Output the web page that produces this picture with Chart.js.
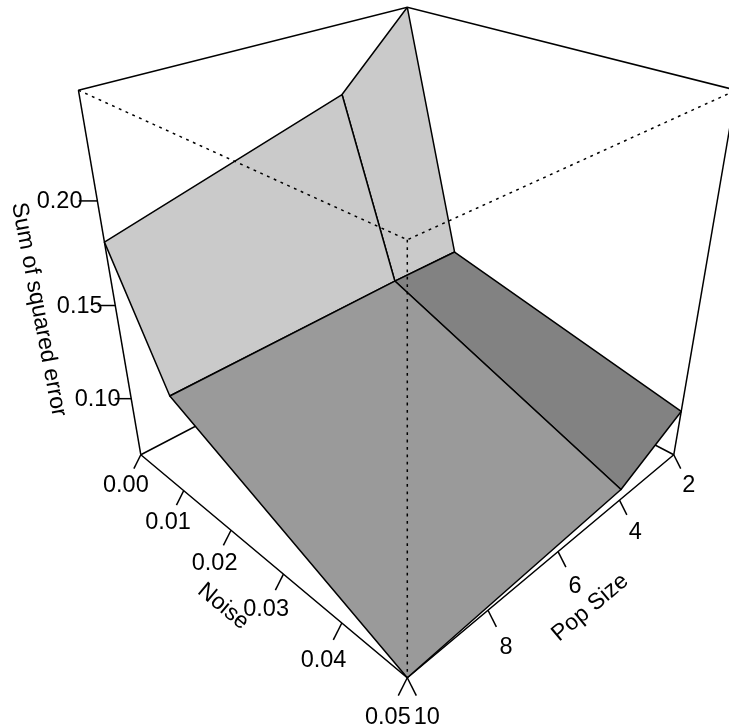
<!DOCTYPE html>
<html>
<head>
<meta charset="utf-8">
<style>html,body{margin:0;padding:0;background:#fff;overflow:hidden}canvas{display:block}</style>
<script src="https://cdn.jsdelivr.net/npm/chart.js@4/dist/chart.umd.min.js"></script>
</head>
<body>
<canvas id="c" width="729" height="728" style="width:729px;height:728px"></canvas>
<script>
// ---- data ----
const noiseGrid = [0, 0.01, 0.05];
const popGrid = [2, 4, 10];
const errNoise0 = [0.247, 0.2128, 0.181];
const errNoise1 = [0.1228, 0.1228, 0.120];
const errNoise5 = [0.0927, 0.0733, 0.067];
const errorRows = [errNoise0, errNoise1, errNoise5];
const cellShades = [['#cacaca', '#cacaca'], ['#828282', '#9a9a9a']];
const noiseTicks = ['0.00', '0.01', '0.02', '0.03', '0.04', '0.05'];
const popTicks = ['2', '4', '6', '8', '10'];
const errorTicks = ['0.10', '0.15', '0.20'];
const noiseTitle = 'Noise', popTitle = 'Pop Size', errorTitle = 'Sum of squared error';
const noiseLim = [0, 0.05], popLim = [2, 10], errorLim = [0.067, 0.247];

// ---- view (like persp: theta, phi, distance) ----
const theta = 45 * Math.PI / 180, phi = 30 * Math.PI / 180, dist = 4.77;
const scaleK = 993, originX = 407.3, originY = 291.6, W = 729, H = 728;
const unit = (v, lim) => 2 * (v - lim[0]) / (lim[1] - lim[0]) - 1;
function project(n, p, z) {
  const h = n * Math.cos(theta) - p * Math.sin(theta);
  const g = n * Math.sin(theta) + p * Math.cos(theta);
  const yy = z * Math.cos(phi) - g * Math.sin(phi);
  const w = dist - (z * Math.sin(phi) + g * Math.cos(phi));
  return { x: h / w, y: yy / w };
}
const INK = '#000', LW = 1.5, DOT = [2.8, 4.6];
const datasets = [];
const addLine = (pts, dash) => datasets.push({ data: pts, showLine: true, fill: false, pointRadius: 0, borderColor: INK, borderWidth: LW, borderDash: dash || [], tension: 0, borderCapStyle: 'butt' });
const corner = (n, p, z) => project(n, p, z);

// box: back edges
addLine([corner(-1, 1, 1), corner(-1, -1, 1), corner(1, -1, 1)]);
addLine([corner(-1, 1, 1), corner(-1, 1, -1)]);
addLine([corner(1, -1, 1), corner(1, -1, -1)]);
addLine([corner(-1, -1, 1), corner(-1, -1, -1)]);
addLine([corner(-1, 1, -1), corner(-1, -1, -1), corner(1, -1, -1)]);
addLine([corner(-1, 1, -1), corner(1, 1, -1), corner(1, -1, -1)]);

// ticks
const tickP = 0.052, tickZ = -0.063, tickZAxis = 0.06, labelMul = 2.15, titleMul = 3.7;
const labels = [];
noiseTicks.forEach(t => {
  const n = unit(+t, noiseLim);
  addLine([corner(n, 1, -1), corner(n, 1 + tickP, -1 + tickZ)]);
  labels.push({ text: t, at: corner(n, 1 + tickP * labelMul, -1 + tickZ * labelMul), rot: 0, size: 23.5 });
});
popTicks.forEach(t => {
  const p = unit(+t, popLim);
  addLine([corner(1, p, -1), corner(1 + tickP, p, -1 + tickZ)]);
  labels.push({ text: t, at: corner(1 + tickP * labelMul, p, -1 + tickZ * labelMul), rot: 0, size: 23.5 });
});
errorTicks.forEach(t => {
  const z = unit(+t, errorLim);
  addLine([corner(-1, 1, z), corner(-1 - tickZAxis, 1 + tickZAxis, z)]);
  labels.push({ text: t, at: corner(-1 - tickZAxis * 2.03, 1 + tickZAxis * 2.03, z), rot: 0, size: 23.5 });
});

// surface
for (let i = 0; i < noiseGrid.length - 1; i++) {
  for (let j = 0; j < popGrid.length - 1; j++) {
    const v = (a, b) => project(unit(noiseGrid[a], noiseLim), unit(popGrid[b], popLim), unit(errorRows[a][b], errorLim));
    const poly = [v(i, j), v(i, j + 1), v(i + 1, j + 1), v(i + 1, j), v(i, j)];
    datasets.push({ data: poly, showLine: true, fill: 'shape', backgroundColor: cellShades[i][j], pointRadius: 0, borderColor: INK, borderWidth: LW, tension: 0, borderJoinStyle: 'round' });
  }
}

// box: front edges, dotted over the surface
addLine([corner(-1, 1, 1), corner(1, 1, 1), corner(1, -1, 1)], DOT);
addLine([corner(1, 1, 1), corner(1, 1, -1)], DOT);

// axis titles
const angleOf = (a, b) => Math.atan2(-(b.y - a.y), b.x - a.x);
labels.push({ text: noiseTitle, at: corner(-0.03, 1 + tickP * titleMul, -1 + tickZ * titleMul), rot: angleOf(corner(-1, 1, -1), corner(1, 1, -1)), size: 23 });
labels.push({ text: popTitle, at: corner(1 + tickP * titleMul, -0.02, -1 + tickZ * titleMul), rot: angleOf(corner(1, 1, -1), corner(1, -1, -1)), size: 23 });
labels.push({ text: errorTitle, at: corner(-1.262, 1.262, -0.1), rot: angleOf(corner(-1, 1, 1), corner(-1, 1, -1)) - 0.02, size: 23 });

// earlier datasets are painted first
datasets.forEach((d, i) => { d.order = datasets.length - i; });

const textPlugin = {
  id: 'textPlugin',
  afterDraw(chart) {
    const { ctx, scales } = chart;
    ctx.save();
    ctx.fillStyle = '#000';
    ctx.textAlign = 'center';
    ctx.textBaseline = 'middle';
    labels.forEach(l => {
      ctx.save();
      ctx.font = l.size + 'px "Liberation Sans", Arial, sans-serif';
      ctx.translate(scales.x.getPixelForValue(l.at.x), scales.y.getPixelForValue(l.at.y));
      ctx.rotate(l.rot);
      ctx.fillText(l.text, 0, 1);
      ctx.restore();
    });
    ctx.restore();
  }
};

new Chart(document.getElementById('c'), {
  type: 'scatter',
  data: { datasets },
  plugins: [textPlugin],
  options: {
    responsive: false,
    animation: false,
    layout: { padding: 0 },
    events: [],
    scales: {
      x: { type: 'linear', display: false, min: -originX / scaleK, max: (W - originX) / scaleK },
      y: { type: 'linear', display: false, min: (originY - H) / scaleK, max: originY / scaleK }
    },
    plugins: { legend: { display: false }, tooltip: { enabled: false }, title: { display: false }, filler: { drawTime: 'beforeDatasetDraw', propagate: false } }
  }
});
</script>
</body>
</html>
